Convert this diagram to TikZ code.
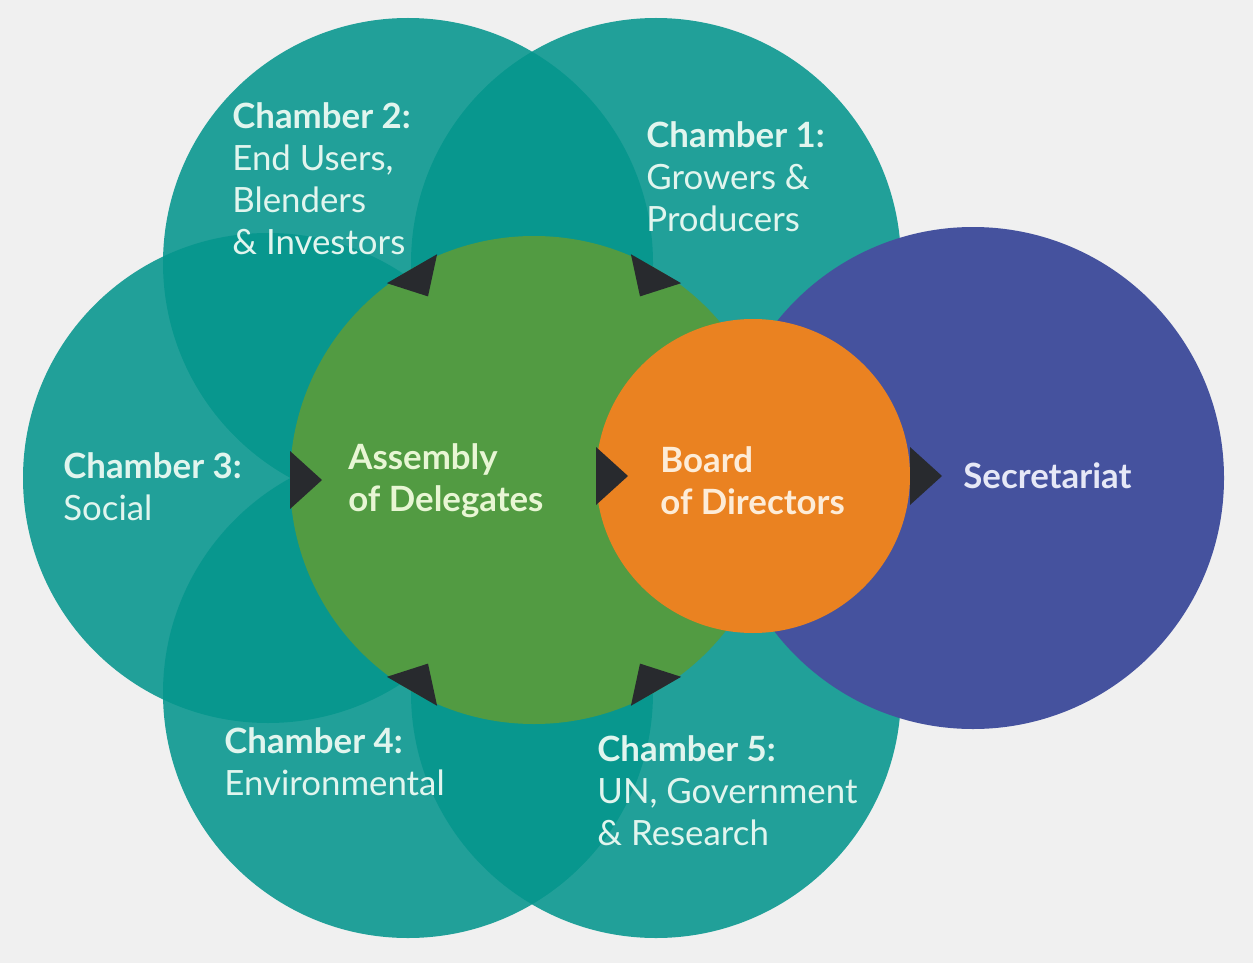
\documentclass[tikz,border=0pt]{standalone}
\usepackage{fontspec}
\setmainfont{Lato}
\definecolor{bgcol}{RGB}{240,240,240}
\definecolor{chteal}{RGB}{5,150,141}
\definecolor{chgreen}{RGB}{82,155,66}
\definecolor{chorange}{RGB}{234,130,33}
\definecolor{chpurple}{RGB}{69,82,158}
\definecolor{tridark}{RGB}{40,42,46}
\definecolor{chtext}{RGB}{225,245,238}
\definecolor{asmtext}{RGB}{232,246,212}
\definecolor{bodtext}{RGB}{253,236,216}
\definecolor{sectext}{RGB}{230,232,246}
\begin{document}
\begin{tikzpicture}[x=0.5pt,y=-0.5pt,
  disc/.style={circle, inner sep=0pt, outer sep=0pt, minimum size=#1},
  chamber/.style={disc=245pt, fill=chteal, fill opacity=0.88},
  lbl/.style={anchor=west, align=left, text=chtext, inner sep=0pt,
    font=\fontsize{17.4}{21}\selectfont},
  lblb/.style={lbl, font=\fontsize{17.4}{21}\selectfont\bfseries},
  tri/.style={fill=tridark}]
\fill[bgcol] (0,0) rectangle (1253,963);
\useasboundingbox (0,0) rectangle (1253,963);
% chambers
\node[chamber] (ch1) at (656,263) {};
\node[chamber] (ch2) at (408,263) {};
\node[chamber] (ch3) at (268,478) {};
\node[chamber] (ch4) at (408,693) {};
\node[chamber] (ch5) at (656,693) {};
% core circles
\node[disc=251pt, fill=chpurple] (sec) at (973,478) {};
\node[disc=244pt, fill=chgreen] (asm) at (534,480) {};
\node[disc=157pt, fill=chorange] (bod) at (753,476) {};
% arrowheads into the assembly
\foreach \a in {60,120,180,240,300}{
  \fill[tri, shift={(asm.center)}, rotate=\a] (244,-29) -- (244,29) -- (212,0) -- cycle;
}
% arrowheads into board and secretariat
\fill[tri, shift={(bod.center)}, rotate=180] (157,-29) -- (157,29) -- (125,0) -- cycle;
\fill[tri, shift={(bod.center)}] (157,-29) -- (157,29) -- (189,0) -- cycle;
% labels
\node[lbl] (t2) at (232,179) {\textbf{Chamber 2:}\\End Users,\\Blenders\\\& Investors};
\node[lbl] (t1) at (646,177) {\textbf{Chamber 1:}\\Growers \&\\Producers};
\node[lbl] (t3) at (63,487) {\textbf{Chamber 3:}\\Social};
\node[lbl] (t4) at (224,762) {\textbf{Chamber 4:}\\Environmental};
\node[lbl] (t5) at (597,791) {\textbf{Chamber 5:}\\UN, Government\\\& Research};
\node[lblb, text=asmtext] (ta) at (348,481) {Assembly\\of Delegates};
\node[lblb, text=bodtext] (tb) at (660,481) {Board\\of Directors};
\node[lblb, text=sectext] (ts) at (963,476) {Secretariat};
\end{tikzpicture}
\end{document}
